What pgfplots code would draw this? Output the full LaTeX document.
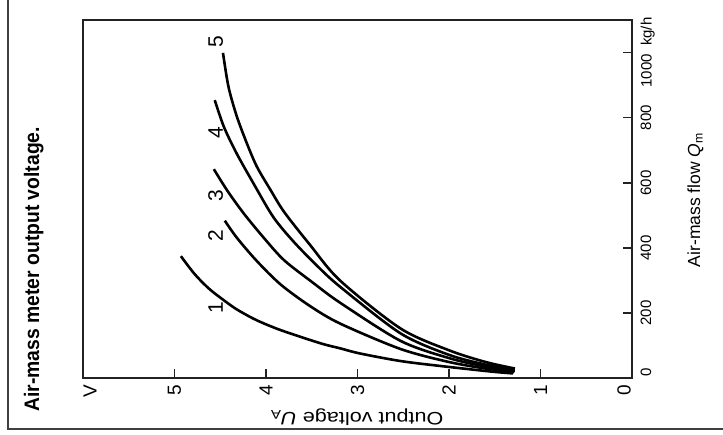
\documentclass[border=0pt]{standalone}
\usepackage{pgfplots}
\pgfplotsset{compat=1.18}
\usepackage{fontspec}
\setmainfont{Liberation Sans}
\newfontfamily\condfont{Liberation Sans}[FakeStretch=0.92]
\newfontfamily\widefont{Liberation Sans}[FakeStretch=1.2]
\definecolor{axcol}{HTML}{222222}
\begin{document}
\begin{tikzpicture}[x=1pt,y=1pt]
\useasboundingbox (0,0) rectangle (723,434);
\fill[white] (0,0) rectangle (723,434);
\draw[black!75, line width=1.8pt] (8.3,434) -- (8.3,5) -- (723,5);
\begin{axis}[
  at={(83pt,55.7pt)}, anchor=south west,
  scale only axis, width=549pt, height=358.3pt,
  xmin=0, xmax=6, x dir=reverse,
  ymin=0, ymax=1100,
  clip=false,
  /pgf/number format/assume math mode=true,
  xtick={0,1,2,3,4,5,6},
  xticklabels={{\raisebox{0pt}[\height][16pt]{0}},1,2,3,4,5,{\raisebox{0pt}[\dimexpr\height+14pt\relax][0pt]{V}}},
  ytick={0,200,400,600,800,1000},
  yticklabels={{\hspace*{11pt}0},200,400,600,800,{1000\hspace{0.55em}kg/h}},
  xtick pos=left, ytick pos=right,
  yticklabel pos=right,
  tick align=inside,
  major tick length=9pt,
  tick style={line width=1.5pt, axcol},
  axis line style={line width=1.6pt, axcol},
  x tick label style={rotate=90, anchor=east, font=\fontsize{19}{19}\selectfont, inner xsep=6.5pt, inner ysep=0pt},
  y tick label style={rotate=90, anchor=north, font=\fontsize{15}{15}\selectfont, inner xsep=0pt, inner ysep=8.5pt},
]
% curve 1
\addplot[black, line width=2.6pt, smooth] coordinates {
(1.30,15) (1.55,21) (2.10,38) (2.53,53) (2.97,76) (3.19,92) (3.41,108) (3.84,148) (4.10,178) (4.28,205) (4.39,225) (4.61,272) (4.78,320) (4.93,375)};
% curve 2
\addplot[black, line width=2.6pt, smooth] coordinates {
(1.29,19) (1.60,30) (2.00,50) (2.53,90) (3.19,168) (3.52,222) (3.84,288) (4.10,360) (4.32,432) (4.45,484)};
% curve 3
\addplot[black, line width=2.6pt, smooth] coordinates {
(1.28,22) (1.60,36) (2.00,62) (2.53,115) (3.19,232) (3.48,292) (3.80,362) (4.02,430) (4.24,505) (4.42,575) (4.57,642)};
% curve 4
\addplot[black, line width=2.6pt, smooth] coordinates {
(1.28,26) (1.60,42) (2.00,72) (2.53,138) (3.19,281) (3.44,345) (3.70,420) (3.92,495) (4.13,595) (4.32,690) (4.46,772) (4.56,854)};
% curve 5
\addplot[black, line width=2.6pt, smooth] coordinates {
(1.28,30) (1.60,50) (2.00,86) (2.53,153) (3.19,300) (3.52,410) (3.80,510) (3.95,578) (4.10,650) (4.21,722) (4.32,805) (4.41,895) (4.47,999)};
\node[rotate=90, font=\fontsize{21}{21}\selectfont] at (axis cs:4.55,218) {1};
\node[rotate=90, font=\fontsize{21}{21}\selectfont] at (axis cs:4.55,437) {2};
\node[rotate=90, font=\fontsize{21}{21}\selectfont] at (axis cs:4.55,562) {3};
\node[rotate=90, font=\fontsize{21}{21}\selectfont] at (axis cs:4.55,754) {4};
\node[rotate=90, font=\fontsize{21}{21}\selectfont] at (axis cs:4.55,1035) {5};
\end{axis}
\node[rotate=90, anchor=base west, font=\condfont\bfseries\fontsize{21}{21}\selectfont] at (39,19) {Air-mass meter output voltage.};
\node[rotate=90, anchor=base, font=\fontsize{17.5}{17.5}\selectfont] at (700,234) {Air-mass flow \textit{Q}\textsubscript{m}};
\node[rotate=180, anchor=base, font=\widefont\fontsize{18}{18}\selectfont] at (357,21) {Output voltage \textit{U}\textsubscript{A}};
\end{tikzpicture}
\end{document}
